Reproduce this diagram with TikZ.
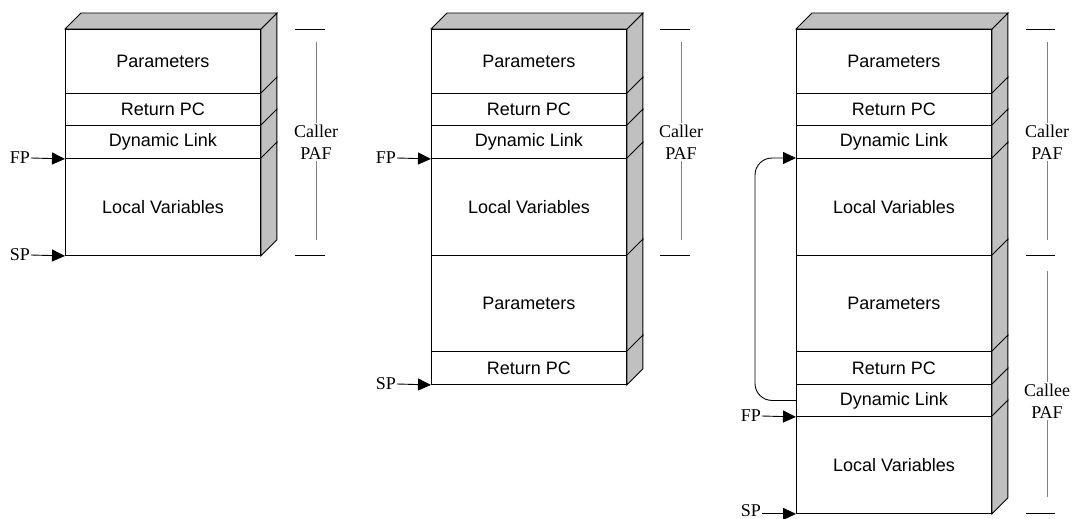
\documentclass[tikz,border=0pt]{standalone}
\usepackage{fontspec}
\setmainfont{Liberation Serif}
\newfontfamily\boxfont{Liberation Sans}
\usetikzlibrary{arrows.meta}

\definecolor{facegray}{HTML}{C0C0C0}
\definecolor{spangray}{HTML}{808080}

\tikzset{
  cell/.style={draw, line width=0.9pt, anchor=north west, minimum width=195pt,
    inner sep=0pt, font=\boxfont\fontsize{18}{21}\selectfont},
  face/.style={fill=facegray, draw, line width=0.9pt, line join=miter},
  ptr/.style={line width=0.9pt, -{Triangle[length=13pt,width=12pt]}},
  ptrlabel/.style={anchor=east, inner sep=1pt, font=\fontsize{18}{21}\selectfont},
  paflabel/.style={align=center, inner sep=2pt, font=\fontsize{18}{22}\selectfont},
  tick/.style={line width=0.9pt},
  span/.style={line width=0.9pt, draw=spangray},
}

% one frame slot: name, left x, top y, bottom y, text; plus its shaded side face
\newcommand\stackcell[5]{%
  \node[cell, minimum height={#4-#3}] (#1) at (#2,#3) {#5};
  \draw[face] (#1.north east) -- ++(16,-16)
    -- ([shift={(16pt,16pt)}]#1.south east) -- (#1.south east) -- cycle;
}
% shaded top face of a stack, given its top slot
\newcommand\stacktop[1]{%
  \draw[face] (#1.north west) -- ++(16,-16)
    -- ([shift={(16pt,16pt)}]#1.north east) -- (#1.north east) -- cycle;
}

\begin{document}
\begin{tikzpicture}[x=1pt, y=-1pt]
\useasboundingbox (0,0) rectangle (1079,519);

% ---------- stack 1 ----------
\stackcell{p1}{65}{29}{93}{Parameters}
\stackcell{r1}{65}{93}{125}{Return PC}
\stackcell{d1}{65}{125}{158}{Dynamic Link}
\stackcell{l1}{65}{158}{255}{Local Variables}
\stacktop{p1}

\node[ptrlabel] (fp1) at (31,158) {FP};
\node[ptrlabel] (sp1) at (31,255) {SP};
\draw[ptr] (fp1.east) -- (d1.south west);
\draw[ptr] (sp1.east) -- (l1.south west);

\node[paflabel] (caller1) at (316,142) {Caller\\PAF};
\draw[tick] (295,29) -- (325,29);
\draw[tick] (295,255) -- (325,255);
\draw[span] (316,42) -- (caller1.north);
\draw[span] (caller1.south) -- (316,240);

% ---------- stack 2 ----------
\stackcell{p2}{431}{29}{93}{Parameters}
\stackcell{r2}{431}{93}{125}{Return PC}
\stackcell{d2}{431}{125}{158}{Dynamic Link}
\stackcell{l2}{431}{158}{255}{Local Variables}
\stackcell{pb2}{431}{255}{351}{Parameters}
\stackcell{rb2}{431}{351}{384}{Return PC}
\stacktop{p2}

\node[ptrlabel] (fp2) at (397,158) {FP};
\node[ptrlabel] (sp2) at (397,384) {SP};
\draw[ptr] (fp2.east) -- (d2.south west);
\draw[ptr] (sp2.east) -- (rb2.south west);

\node[paflabel] (caller2) at (681,142) {Caller\\PAF};
\draw[tick] (660,29) -- (690,29);
\draw[tick] (660,255) -- (690,255);
\draw[span] (681,42) -- (caller2.north);
\draw[span] (caller2.south) -- (681,240);

% ---------- stack 3 ----------
\stackcell{p3}{796}{29}{93}{Parameters}
\stackcell{r3}{796}{93}{125}{Return PC}
\stackcell{d3}{796}{125}{158}{Dynamic Link}
\stackcell{l3}{796}{158}{255}{Local Variables}
\stackcell{pc3}{796}{255}{351}{Parameters}
\stackcell{rc3}{796}{351}{384}{Return PC}
\stackcell{dc3}{796}{384}{416}{Dynamic Link}
\stackcell{lc3}{796}{416}{513}{Local Variables}
\stacktop{p3}

\node[ptrlabel] (fp3) at (762,416) {FP};
\node[ptrlabel, inner sep=0pt] (sp3) at (761,510.5) {SP};
\draw[ptr] (fp3.east) -- (dc3.south west);
\draw[ptr] ([xshift=1pt]sp3.east |- lc3.south west) -- (lc3.south west);

% dynamic link back to the caller's frame
\draw[ptr, rounded corners=17pt] (dc3.west) -| ([xshift=-41pt]l3.north west) -- (l3.north west);

\node[paflabel] (caller3) at (1047,142) {Caller\\PAF};
\draw[tick] (1026,29) -- (1055,29);
\draw[tick] (1026,255) -- (1055,255);
\draw[span] (1047,42) -- (caller3.north);
\draw[span] (caller3.south) -- (1047,240);

\node[paflabel] (callee3) at (1047,401) {Callee\\PAF};
\draw[tick] (1026,513) -- (1055,513);
\draw[span] (1047,271) -- (callee3.north);
\draw[span] (callee3.south) -- (1047,497);
\end{tikzpicture}
\end{document}
